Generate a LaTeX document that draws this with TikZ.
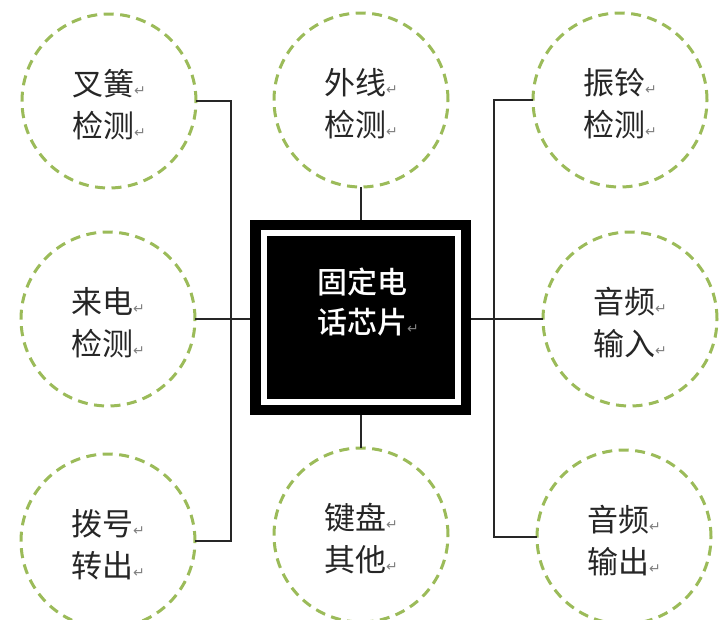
\documentclass[tikz,border=0pt]{standalone}
\usepackage{fontspec}
\setmainfont{Noto Sans CJK SC}
\newfontfamily\chipfont{Noto Sans CJK SC Medium}
\newfontfamily\symf{DejaVu Sans}
\newcommand{\retmark}{{\symf\fontsize{14}{14}\selectfont\color{black!50}↵}}
\definecolor{olivegreen}{RGB}{155,187,89}
\begin{document}
\begin{tikzpicture}[x=1pt,y=-1pt,
  bubble/.style={circle,draw=olivegreen,line width=3pt,dash pattern=on 10pt off 6.5pt,
    minimum size=174pt,inner sep=0pt,outer sep=0pt},
  bubbletext/.style={align=center,inner sep=0pt,yshift=-4pt,
    font=\fontsize{31}{42}\selectfont,text=black!85},
  wire/.style={draw=black!85,line width=1.6pt}]
\useasboundingbox (0,0) rectangle (728,619);
% chip
\fill[black] (250,220) rectangle (471,415);
\fill[white] (261,230) rectangle (461,405);
\fill[black] (267,236) rectangle (455,399);
\coordinate (chip) at (360.5,317.5);
\node[inner sep=0pt,outer sep=0pt,minimum width=221pt,minimum height=195pt] (chipbox) at (chip) {};
\node[text=white,align=left,font=\chipfont\fontsize{30}{40}\selectfont] (chiptext) at (368,302) {固定电\\话芯片\retmark};
% bubbles
\node[bubble] (tl) at (109,101) {};
\node[bubble] (ml) at (108,319) {};
\node[bubble] (bl) at (108,541) {};
\node[bubble] (tm) at (361,100) {};
\node[bubble] (bm) at (361,535) {};
\node[bubble] (tr) at (620,100) {};
\node[bubble] (mr) at (630,319) {};
\node[bubble] (br) at (624,537) {};
\node[bubbletext] (tlt) at (tl) {叉簧\retmark\\检测\retmark};
\node[bubbletext] (mlt) at (ml) {来电\retmark\\检测\retmark};
\node[bubbletext] (blt) at (bl) {拨号\retmark\\转出\retmark};
\node[bubbletext] (tmt) at (tm) {外线\retmark\\检测\retmark};
\node[bubbletext] (bmt) at (bm) {键盘\retmark\\其他\retmark};
\node[bubbletext] (trt) at (tr) {振铃\retmark\\检测\retmark};
\node[bubbletext] (mrt) at (mr) {音频\retmark\\输入\retmark};
\node[bubbletext] (brt) at (br) {音频\retmark\\输出\retmark};
% connectors
\coordinate (lbus) at (231,101);
\coordinate (rbus) at (494,100);
\draw[wire] (tl.east) -- (lbus) |- (bl.east);
\draw[wire] (ml.east) -- (ml.east -| chipbox.west);
\draw[wire] (tr.west) -- (rbus) |- (br.west);
\draw[wire] (chipbox.east |- mr.west) -- (mr.west);
\draw[wire] (tm.south) -- (tm.south |- chipbox.north);
\draw[wire] (bm.north |- chipbox.south) -- (bm.north);
\end{tikzpicture}
\end{document}
